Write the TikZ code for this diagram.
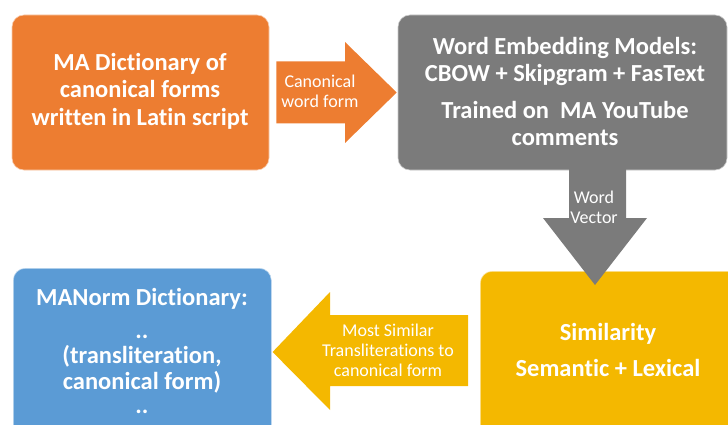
\documentclass[tikz,border=0pt]{standalone}
\usepackage{fontspec}
\setmainfont{Carlito}[Ligatures=NoCommon]
\definecolor{orangeC}{HTML}{ED7D31}
\definecolor{grayC}{HTML}{7B7B7B}
\definecolor{yellowC}{HTML}{F4B800}
\definecolor{blueC}{HTML}{5B9BD5}
\begin{document}
\begin{tikzpicture}[x=1pt,y=-1pt,
  box/.style={rectangle, rounded corners=12pt, inner sep=0pt, draw=white!60!#1, line width=0.6pt, fill=#1},
  bigtext/.style={text=white, font=\fontsize{24.5}{27.5}\selectfont\bfseries, align=center, inner sep=0pt},
  smalltext/.style={text=white, font=\fontsize{18}{20}\selectfont, align=center, inner sep=0pt}]
\useasboundingbox (0,0) rectangle (728,425);
\clip (0,0) rectangle (728,425);
% boxes
\node[box=orangeC, minimum width=257pt, minimum height=155pt] (dict) at (140.5,92.5) {};
\node[box=grayC, minimum width=329pt, minimum height=155pt] (models) at (562.5,92.5) {};
\node[box=yellowC, minimum width=265pt, minimum height=169pt, anchor=north west] (sim) at (480,271) {};
\node[box=blueC, minimum width=258pt, minimum height=172pt, anchor=north west] (manorm) at (13,268) {};
% box texts
\node[bigtext] (dictT) at (140,91) {MA Dictionary of\\canonical forms\\written in Latin script};
\node[bigtext] (modelsT) at (565,91.5) {Word Embedding Models:\\CBOW + Skipgram + FasText\\[9pt]Trained on\ \ MA YouTube\\comments};
\node[bigtext] (simT) at (608,350) {Similarity\\[8.5pt]Semantic + Lexical};
\node[bigtext, anchor=base] (manT1) at (142,305) {MANorm Dictionary:};
\node[bigtext, anchor=base] (manT2) at (142,338) {..};
\node[bigtext, anchor=base] (manT3) at (142,363.5) {(transliteration,};
\node[bigtext, anchor=base] (manT4) at (142,389) {canonical form)};
\node[bigtext, anchor=base] (manT5) at (142,413) {..};
% arrow 1: dict -> models
\coordinate (a1s) at ([xshift=7pt]dict.east);
\coordinate (a1t) at ([xshift=-1pt]models.west);
\fill[orangeC] ([yshift=-31pt]a1s) -- ([yshift=-31pt]a1s -| 345,0) -- (345,42) -- (a1t) -- (345,143) -- ([yshift=31pt]a1s -| 345,0) -- ([yshift=31pt]a1s) -- cycle;
\node[smalltext] (a1T) at (320,91.5) {Canonical\\word form};
% arrow 2: models -> sim
\coordinate (a2s) at ([yshift=10pt]models.south -| 597.5,0);
\coordinate (a2t) at ([yshift=-14pt]sim.north -| 595,0);
\fill[grayC] ([xshift=-28.5pt]a2s) -- ([xshift=28.5pt]a2s) -- (626,218) -- (647,218) -- (a2t) -- (543,218) -- (569,218) -- cycle;
\node[smalltext] (a2T) at (594,207) {Word\\Vector};
% arrow 3: sim -> manorm
\coordinate (a3t) at ([xshift=1pt]manorm.east |- 0,352);
\fill[yellowC] (468,315) -- (468,386) -- (330,386) -- (330,410) -- (a3t) -- (330,292) -- (330,315) -- cycle;
\node[smalltext] (a3T) at (388,350) {Most Similar\\Transliterations to\\canonical form};
\end{tikzpicture}
\end{document}
